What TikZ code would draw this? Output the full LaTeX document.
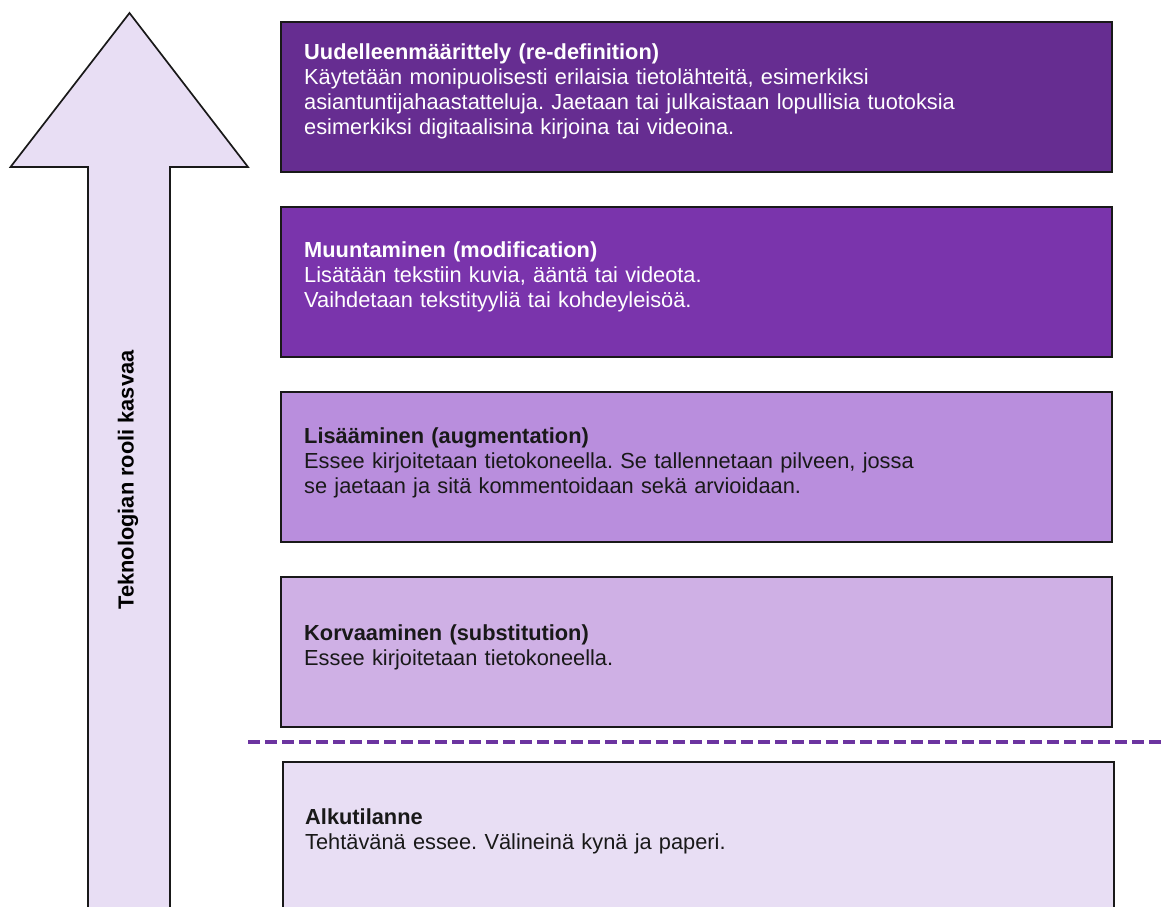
\documentclass[tikz,border=0pt]{standalone}
\usepackage{fontspec}
\setmainfont{Liberation Sans}
\frenchspacing
\definecolor{cA}{RGB}{102,45,145}
\definecolor{cB}{RGB}{122,52,172}
\definecolor{cC}{RGB}{185,142,221}
\definecolor{cD}{RGB}{207,176,229}
\definecolor{cE}{RGB}{232,222,244}
\definecolor{cDash}{RGB}{108,52,160}
\begin{document}
\begin{tikzpicture}[x=1pt,y=-1pt,
  stage/.style={draw=black!90, line width=1.7pt},
  stagebox/.style={stage, anchor=north west, inner sep=0pt, minimum width=831pt, minimum height=150pt},
  stagetext/.style={anchor=base west, inner sep=0pt, text width=800pt, align=left,
    font=\fontsize{21.8}{25.3}\selectfont},
  dashline/.style={draw=cDash, line width=4pt, dash pattern=on 12pt off 5pt},
]
\useasboundingbox (0,0) rectangle (1163,906);
\clip (0,0) rectangle (1163,906);
% arrow
\draw[stage, fill=cE, line join=miter] (129.5,13) -- (248,167) -- (170,167) -- (170,930)
  -- (88,930) -- (88,167) -- (10.5,167) -- cycle;
\node[rotate=90, anchor=base, inner sep=0pt, font=\fontsize{21.8}{25}\selectfont\bfseries] (lbl) at (133.5,480) {Teknologian rooli kasvaa};
% boxes
\node[stagebox, fill=cA] (b1) at (280,21) {};
\node[stagebox, fill=cB] (b2) at (280,206) {};
\node[stagebox, fill=cC] (b3) at (280,391) {};
\node[stagebox, fill=cD] (b4) at (280,576) {};
\node[stagebox, fill=cE] (b5) at (282,761) {};
% texts
\node[stagetext, text=white] (t1) at (304,59) {\textbf{Uudelleenmäärittely (re-definition)}\\
Käytetään monipuolisesti erilaisia tietolähteitä, esimerkiksi\\
asiantuntijahaastatteluja. Jaetaan tai julkaistaan lopullisia tuotoksia\\
esimerkiksi digitaalisina kirjoina tai videoina.};
\node[stagetext, text=white] (t2) at (304,257) {\textbf{Muuntaminen (modification)}\\
Lisätään tekstiin kuvia, ääntä tai videota.\\
Vaihdetaan tekstityyliä tai kohdeyleisöä.};
\node[stagetext, text=black!90] (t3) at (304,443) {\textbf{Lisääminen (augmentation)}\\
Essee kirjoitetaan tietokoneella. Se tallennetaan pilveen, jossa\\
se jaetaan ja sitä kommentoidaan sekä arvioidaan.};
\node[stagetext, text=black!90] (t4) at (304,640) {\textbf{Korvaaminen (substitution)}\\
Essee kirjoitetaan tietokoneella.};
\node[stagetext, text=black!90] (t5) at (305,824) {\textbf{Alkutilanne}\\
Tehtävänä essee. Välineinä kynä ja paperi.};
% dashed boundary
\coordinate (dl) at (248,742);
\coordinate (dr) at (1163,742);
\draw[dashline] (dl) -- (dr);
\end{tikzpicture}
\end{document}
